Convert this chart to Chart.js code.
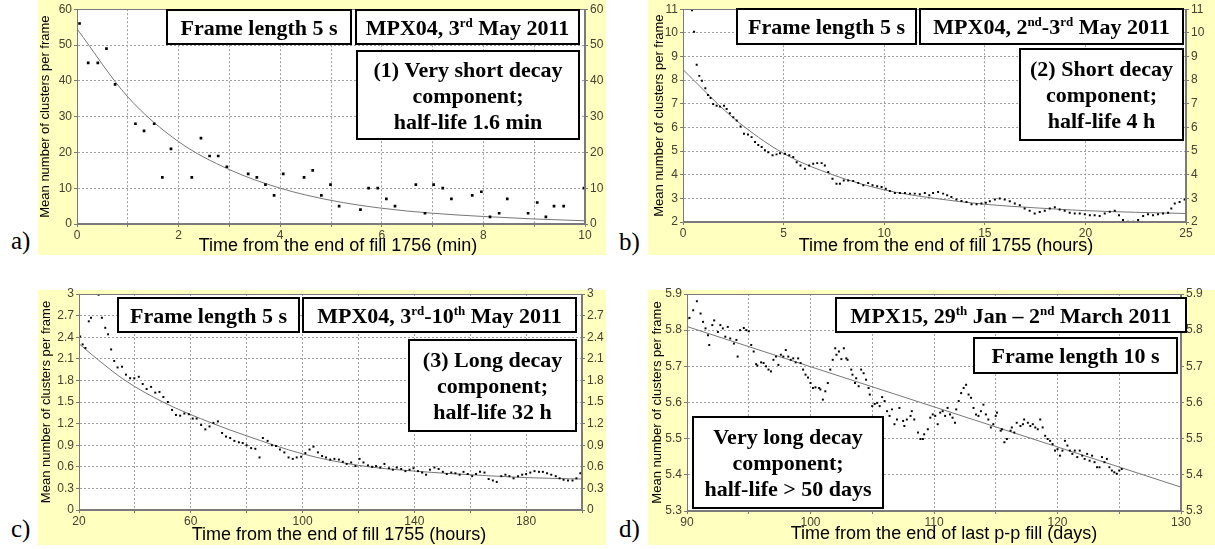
<!DOCTYPE html>
<html lang="en">
<head>
<meta charset="UTF-8">
<title>Cluster rate decay after LHC fills</title>
<script src="https://cdn.jsdelivr.net/npm/chart.js"></script>
<style>
  body { margin: 0; width: 1215px; height: 549px; position: relative; background: #fff; overflow: hidden; }
  .bg { position: absolute; background: #ffffc0; }
  canvas { position: absolute; }
  .tag { position: absolute; font-family: "Liberation Serif", "Times New Roman", serif; font-size: 25px; line-height: 1; color: #000; }
</style>
</head>
<body>
<div class="tag" style="left:11px;top:228px">a)</div>
<div class="tag" style="left:619px;top:229px">b)</div>
<div class="tag" style="left:11px;top:516px">c)</div>
<div class="tag" style="left:619px;top:516px">d)</div>

<script>
// (a) very short component, fill 1756, minutes
const aTime = [0.05,0.22,0.41,0.58,0.75,1.15,1.32,1.52,1.68,1.85,2.26,2.44,2.61,2.78,2.95,3.37,3.54,3.71,3.88,4.06,
  4.47,4.64,4.81,4.99,5.16,5.58,5.74,5.92,6.09,6.26,6.67,6.85,7.02,7.20,7.37,7.78,7.96,8.13,8.31,8.47,8.88,9.06,9.23,9.39,9.58,9.98];
const aCount = [56,45,45,49,39,28,26,28,13,21,13,24,19,19,16,14,13,11,8,14,
  13,15,8,11,5,4,10,10,7,5,11,3,11,10,7,8,9,2,3,7,3,6,2,5,5,10];
const aFitTime = [0,1,2,3,4,5,6,7,8,9,10];
const aFitCount = [54.5,35.5,23,15.2,10,6.6,4.4,3,2.1,1.4,0.9];

// (b) short component, fill 1755, hours
const bTime = [0.45,0.55,0.68,0.81,0.94,1.11,1.24,1.37,1.5,1.67,1.84,2.04,2.17,2.33,2.5,2.67,2.86,3.03,3.23,3.41,
  3.58,3.74,3.91,4.07,4.24,4.45,4.65,4.82,5.07,5.28,5.48,5.65,5.84,6.06,6.27,6.47,6.67,6.89,7.05,7.22,
  7.43,7.63,7.80,7.99,8.21,8.46,8.71,8.96,9.2,9.42,9.65,9.87,10.08,10.28,10.53,10.78,11.03,11.28,11.52,11.77,
  12.02,12.24,12.43,12.68,12.93,13.13,13.34,13.59,13.84,14.09,14.34,14.59,14.83,15.05,15.25,15.5,15.74,15.99,16.24,16.49,
  16.74,16.98,17.23,17.48,17.73,17.98,18.23,18.48,18.72,18.97,19.22,19.47,19.72,19.97,20.22,20.46,20.71,20.96,21.21,21.46,
  21.67,21.87,22.12,22.37,22.62,22.87,23.11,23.36,23.61,23.86,24.11,24.27,24.44,24.68,24.93];
const bCount = [10.95,10.05,8.65,8.18,7.97,7.66,7.37,7.24,6.99,6.92,6.88,6.92,6.78,6.6,6.43,6.29,6.04,5.73,5.70,5.59,
  5.38,5.26,5.17,5.03,4.95,4.82,4.86,4.91,4.89,4.82,4.75,4.53,4.39,4.25,4.39,4.46,4.49,4.49,4.39,4.11,
  3.83,3.62,3.62,3.76,3.76,3.73,3.65,3.55,3.65,3.55,3.51,3.48,3.41,3.31,3.23,3.23,3.23,3.20,3.20,3.17,
  3.23,3.13,3.23,3.27,3.20,3.13,3.06,2.95,2.89,2.85,2.75,2.75,2.78,2.81,2.88,2.95,2.99,2.95,2.88,2.78,
  2.71,2.57,2.48,2.36,2.42,2.48,2.57,2.62,2.53,2.48,2.39,2.36,2.36,2.33,2.29,2.29,2.25,2.36,2.43,2.48,
  2.29,2.08,2.01,2.01,2.08,2.25,2.33,2.29,2.33,2.36,2.39,2.57,2.78,2.85,2.95];
const bFitTime = [0,1,2.5,5,7.5,10,12.5,15,17.5,20,22.5,25];
const bFitCount = [8.45,7.6,6.4,4.9,3.98,3.36,3.0,2.75,2.6,2.48,2.41,2.36];

// (c) long component, fill 1755, hours
const cTime = [20.4,21.3,22.3,23.5,24.3,27.0,28.2,29.4,30.4,31.5,32.6,33.8,35.4,36.8,38.3,39.8,41.4,42.8,44.2,45.8,
  47.3,48.8,50.2,51.8,53.3,54.7,56.2,57.7,59.3,60.7,62.1,63.7,65.2,66.7,68.1,69.7,71.2,72.6,74.1,75.6,
  77.2,78.6,80.0,81.6,83.1,84.6,85.8,87.5,89.0,90.5,91.9,93.5,95.0,96.5,97.9,99.5,101.0,102.5,103.9,105.5,
  107.0,108.4,109.9,111.4,113.0,114.4,115.8,117.4,118.9,120.4,121.8,123.4,124.9,126.3,127.8,129.3,130.9,132.3,133.7,135.3,
  136.8,138.3,139.7,141.3,142.8,144.2,145.6,147.2,148.7,150.2,151.6,153.2,154.7,156.2,157.6,159.1,160.7,162.1,163.5,165.1,
  166.6,168.1,169.5,171.1,172.6,174.0,175.5,177.1,178.6,180.0,181.5,183.0,184.6,186.0,187.5,189.0,190.6,192.0,193.4,195.0,
  196.6,198.0,199.4];
const cCount = [2.41,2.30,2.25,2.62,2.67,2.99,2.67,2.53,2.44,2.23,2.07,1.98,1.99,1.88,1.83,1.83,1.85,1.75,1.68,1.71,
  1.63,1.64,1.57,1.50,1.39,1.32,1.31,1.34,1.33,1.27,1.27,1.18,1.12,1.16,1.21,1.23,1.07,1.02,1.00,0.96,
  0.94,0.93,0.90,0.86,0.85,0.73,1.00,0.96,0.90,0.89,0.84,0.80,0.73,0.71,0.73,0.74,0.79,0.84,0.88,0.80,
  0.75,0.73,0.70,0.71,0.70,0.67,0.64,0.66,0.61,0.71,0.66,0.62,0.60,0.61,0.59,0.64,0.58,0.56,0.59,0.57,
  0.54,0.56,0.58,0.54,0.52,0.49,0.56,0.59,0.57,0.53,0.50,0.52,0.51,0.49,0.53,0.50,0.47,0.50,0.53,0.52,
  0.43,0.41,0.39,0.47,0.49,0.47,0.44,0.47,0.49,0.50,0.52,0.54,0.53,0.53,0.51,0.49,0.47,0.44,0.42,0.41,
  0.41,0.44,0.51];
const cFitTime = [20,26.4,36.5,50,68,80,100,120,140,160,180,200];
const cFitCount = [2.31,2.1,1.8,1.5,1.2,1.03,0.78,0.62,0.54,0.49,0.45,0.43];

// (d) very long component, MPX15, days
const dTime = [90.03,90.2,90.5,90.8,91.1,91.3,91.5,91.7,91.8,92.05,92.2,92.5,92.7,92.9,93.1,93.3,93.5,93.8,94.0,94.1,
  94.3,94.6,94.8,95.0,95.2,95.4,95.6,95.7,96.0,96.2,96.4,96.6,96.8,97.0,97.2,97.4,97.6,97.8,98.0,98.2,
  98.4,98.6,98.8,99.0,99.2,99.4,99.6,99.8,100.0,100.2,100.4,100.7,100.8,101.0,101.2,101.4,101.6,101.8,102.0,102.1,
  102.3,102.5,102.7,102.9,103.0,103.3,103.4,103.6,103.7,103.9,104.1,104.3,104.5,104.7,104.8,105.0,105.2,105.4,105.6,105.8,
  106.0,106.2,106.4,106.6,106.8,107.0,107.2,107.5,107.6,107.8,108.1,108.2,108.4,108.7,108.9,109.1,109.2,109.5,109.7,109.9,
  110.1,110.3,110.5,110.7,110.9,111.1,111.3,111.5,111.7,111.8,112.0,112.2,112.4,112.6,112.8,113.0,113.2,113.4,113.6,113.8,
  114.0,114.2,114.4,114.6,114.8,115.0,115.1,115.4,115.5,115.7,115.9,116.2,116.3,116.5,116.7,117.0,117.2,117.3,117.6,117.8,
  118.0,118.2,118.4,118.6,118.8,119.0,119.2,119.4,119.6,119.8,120.0,120.2,120.4,120.6,120.8,121.0,121.2,121.4,121.6,121.8,
  122.0,122.2,122.4,122.6,122.8,123.0,123.2,123.4,123.6,123.8,124.0,124.2,124.4,124.6,124.8,125.0,125.2];
const dCount = [5.832,5.834,5.855,5.88,5.846,5.823,5.805,5.786,5.759,5.814,5.827,5.795,5.814,5.805,5.782,5.809,5.777,5.763,5.773,5.727,
  5.80,5.806,5.80,5.797,5.759,5.741,5.706,5.702,5.711,5.709,5.70,5.691,5.686,5.718,5.727,5.704,5.732,5.727,5.745,5.727,
  5.718,5.722,5.711,5.722,5.709,5.691,5.677,5.669,5.654,5.64,5.642,5.64,5.636,5.608,5.631,5.654,5.691,5.718,5.75,5.732,
  5.741,5.72,5.75,5.722,5.718,5.691,5.677,5.654,5.667,5.645,5.691,5.681,5.663,5.64,5.622,5.59,5.596,5.599,5.59,5.615,
  5.604,5.576,5.563,5.581,5.54,5.553,5.585,5.549,5.535,5.553,5.563,5.576,5.553,5.517,5.499,5.499,5.512,5.526,5.558,5.567,
  5.563,5.54,5.572,5.576,5.563,5.585,5.567,5.558,5.544,5.581,5.604,5.626,5.64,5.649,5.622,5.613,5.585,5.567,5.563,5.576,
  5.594,5.567,5.553,5.531,5.54,5.563,5.572,5.522,5.526,5.49,5.499,5.522,5.531,5.517,5.544,5.535,5.54,5.553,5.544,5.535,
  5.54,5.531,5.526,5.553,5.531,5.508,5.499,5.494,5.485,5.467,5.471,5.453,5.467,5.494,5.481,5.467,5.458,5.467,5.449,5.467,
  5.453,5.444,5.458,5.439,5.453,5.435,5.421,5.421,5.449,5.435,5.444,5.421,5.412,5.407,5.403,5.412,5.416];
const dFitTime = [90,130];
const dFitCount = [5.81,5.366];

const Y_TITLE = 'Mean number of clusters per frame';
const GRID = '#a0a0a0', AXIS = '#7a7a7a';
const BOX_FONT = 'bold 22px "Liberation Serif", "Times New Roman", serif';
const SUP_FONT = 'bold 13px "Liberation Serif", "Times New Roman", serif';

Chart.defaults.font.family = '"Liberation Sans", Arial, sans-serif';
Chart.defaults.font.size = 12;
Chart.defaults.color = '#45402f';

const toPoints = (xs, ys) => xs.map((x, i) => ({ x, y: ys[i] }));
// plain number labels: 0, 0.3, 3, 5.9 (no padded decimals)
const plain = v => String(Math.round(v * 100) / 100);

// bg/plot are page pixels: bg = [x, y, w, h], plot = [left, top, right, bottom]
// box lines use ^..^ around superscript runs
const panels = [
  {
    bg: [38, 0, 568, 255], plot: [77, 8, 585, 224], yTitlePad: 0, dot: 1.9,
    x: { min: 0, max: 10, step: 1, label: v => v % 2 === 0 ? v : '' },
    y: { min: 0, max: 60, step: 10 },
    xTitle: 'Time from the end of fill 1756 (min)', xTitleAt: [338, 246],
    points: toPoints(aTime, aCount), fit: toPoints(aFitTime, aFitCount),
    boxes: [
      { r: [167, 10, 351, 44], lines: ['Frame length 5 s'] },
      { r: [356, 10, 579, 44], lines: ['MPX04, 3^rd^ May 2011'] },
      { r: [357, 51, 579, 139], lines: ['(1) Very short decay', 'component;', 'half-life 1.6 min'] }
    ]
  },
  {
    bg: [648, 0, 567, 255], plot: [683, 8, 1186, 222], yTitlePad: 4, dot: 1.4,
    x: { min: 0, max: 25, step: 5, label: v => v },
    y: { min: 2, max: 11, step: 1 },
    xTitle: 'Time from the end of fill 1755 (hours)', xTitleAt: [946, 246],
    points: toPoints(bTime, bCount), fit: toPoints(bFitTime, bFitCount),
    boxes: [
      { r: [737, 9, 916, 44], lines: ['Frame length 5 s'] },
      { r: [920, 9, 1183, 44], lines: ['MPX04, 2^nd^-3^rd^ May 2011'] },
      { r: [1020, 49, 1183, 140], lines: ['(2) Short decay', 'component;', 'half-life 4 h'] }
    ]
  },
  {
    bg: [38, 290, 568, 255], plot: [79, 294, 582, 510], yTitlePad: 1, dot: 1.4,
    x: { min: 20, max: 200, step: 20, label: v => (v - 20) % 40 === 0 ? v : '' },
    y: { min: 0, max: 3, step: 0.3 },
    xTitle: 'Time from the end of fill 1755 (hours)', xTitleAt: [339, 535],
    points: toPoints(cTime, cCount), fit: toPoints(cFitTime, cFitCount),
    boxes: [
      { r: [118, 298, 299, 332], lines: ['Frame length 5 s'] },
      { r: [303, 298, 576, 332], lines: ['MPX04, 3^rd^-10^th^ May 2011'] },
      { r: [409, 340, 576, 431], lines: ['(3) Long decay', 'component;', 'half-life 32 h'] }
    ]
  },
  {
    bg: [648, 290, 567, 255], plot: [687, 294, 1181, 511], yTitlePad: 2, dot: 1.4,
    x: { min: 90, max: 130, step: 5, label: v => v % 10 === 0 ? v : '' },
    y: { min: 5.3, max: 5.9, step: 0.1 },
    xTitle: 'Time from the end of last p-p fill (days)', xTitleAt: [944, 534],
    points: toPoints(dTime, dCount), fit: toPoints(dFitTime, dFitCount),
    boxes: [
      { r: [836, 298, 1186, 332], lines: ['MPX15, 29^th^ Jan \u2013 2^nd^ March 2011'] },
      { r: [974, 338, 1177, 373], lines: ['Frame length 10 s'] },
      { r: [693, 417, 883, 508], lines: ['Very long decay', 'component;', 'half-life > 50 days'] }
    ]
  }
];

// white label box with centred bold lines, superscripts raised
function drawBox(ctx, b, ox, oy) {
  const x0 = b.r[0] - ox, y0 = b.r[1] - oy, x1 = b.r[2] - ox, y1 = b.r[3] - oy;
  ctx.fillStyle = '#fff';
  ctx.fillRect(x0, y0, x1 - x0, y1 - y0);
  ctx.lineWidth = 2;
  ctx.strokeStyle = '#000';
  ctx.strokeRect(x0, y0, x1 - x0, y1 - y0);
  ctx.fillStyle = '#000';
  const n = b.lines.length, lh = 26, cy = (y0 + y1) / 2;
  b.lines.forEach((line, i) => {
    const parts = line.split('^');
    let w = 0;
    parts.forEach((t, j) => { ctx.font = j % 2 ? SUP_FONT : BOX_FONT; w += ctx.measureText(t).width; });
    let x = (x0 + x1) / 2 - w / 2;
    const base = cy + (i - (n - 1) / 2) * lh + 7.5;
    parts.forEach((t, j) => {
      ctx.font = j % 2 ? SUP_FONT : BOX_FONT;
      ctx.fillText(t, x, j % 2 ? base - 8 : base);
      x += ctx.measureText(t).width;
    });
  });
}

function decor(panel, ox, oy) {
  return {
    id: 'decor',
    beforeDraw(chart) {
      const { ctx, chartArea: a } = chart;
      ctx.save();
      ctx.fillStyle = '#fff';
      ctx.fillRect(a.left, a.top, a.right - a.left, a.bottom - a.top);
      ctx.restore();
    },
    afterDraw(chart) {
      const { ctx, chartArea: a } = chart;
      ctx.save();
      ctx.strokeStyle = AXIS;
      ctx.lineWidth = 1;
      ctx.strokeRect(Math.round(a.left) + 0.5, Math.round(a.top) + 0.5,
        Math.round(a.right - a.left) - 1, Math.round(a.bottom - a.top) - 1);
      ctx.font = '18px "Liberation Sans", Arial, sans-serif';
      ctx.fillStyle = '#000';
      ctx.textAlign = 'center';
      ctx.textBaseline = 'middle';
      ctx.fillText(panel.xTitle, panel.xTitleAt[0] - ox, panel.xTitleAt[1] - oy);
      ctx.textAlign = 'left';
      ctx.textBaseline = 'alphabetic';
      panel.boxes.forEach(b => drawBox(ctx, b, ox, oy));
      ctx.restore();
    }
  };
}

panels.forEach(p => {
  const [bx, by, bw, bh] = p.bg;
  const [pl, pt, pr, pb] = p.plot;
  const cy = Math.max(0, by - 12);
  const ch = by + bh - cy;

  const bg = document.createElement('div');
  bg.className = 'bg';
  Object.assign(bg.style, { left: bx + 'px', top: by + 'px', width: bw + 'px', height: bh + 'px' });
  document.body.appendChild(bg);

  const cv = document.createElement('canvas');
  cv.width = bw;
  cv.height = ch;
  Object.assign(cv.style, { left: bx + 'px', top: cy + 'px', width: bw + 'px', height: ch + 'px' });
  document.body.appendChild(cv);

  const yTicks = { stepSize: p.y.step, autoSkip: false, padding: 2, callback: plain };

  new Chart(cv, {
    type: 'scatter',
    data: {
      datasets: [
        { data: p.points, pointStyle: 'rect', pointRadius: p.dot, pointBorderWidth: 0,
          backgroundColor: '#000', borderColor: '#000', order: 0 },
        { data: p.fit, showLine: true, pointRadius: 0, borderColor: '#777', borderWidth: 1,
          cubicInterpolationMode: 'monotone', order: 1 }
      ]
    },
    options: {
      responsive: false,
      animation: false,
      events: [],
      layout: { padding: { top: pt - cy, left: 0, right: 0, bottom: 0 } },
      plugins: { legend: { display: false }, tooltip: { enabled: false } },
      scales: {
        x: {
          type: 'linear', min: p.x.min, max: p.x.max,
          ticks: { stepSize: p.x.step, autoSkip: false, maxRotation: 0, padding: 1, callback: p.x.label },
          grid: { color: GRID, tickLength: 3, tickColor: AXIS },
          border: { color: AXIS, dash: [2, 2] },
          afterFit: s => { s.height = cy + ch - pb; }
        },
        y: {
          position: 'left', min: p.y.min, max: p.y.max, ticks: yTicks,
          grid: { color: GRID, tickLength: 3, tickColor: AXIS },
          border: { color: AXIS, dash: [2, 2] },
          title: { display: true, text: Y_TITLE, color: '#000', font: { size: 13 },
                   padding: { top: p.yTitlePad, bottom: 0 } },
          afterFit: s => { s.width = pl - bx; }
        },
        y2: {
          position: 'right', min: p.y.min, max: p.y.max, ticks: yTicks,
          grid: { drawOnChartArea: false, tickLength: 3, tickColor: AXIS },
          border: { color: AXIS },
          afterFit: s => { s.width = bx + bw - pr; }
        }
      }
    },
    plugins: [decor(p, bx, cy)]
  });
});
</script>
</body>
</html>
